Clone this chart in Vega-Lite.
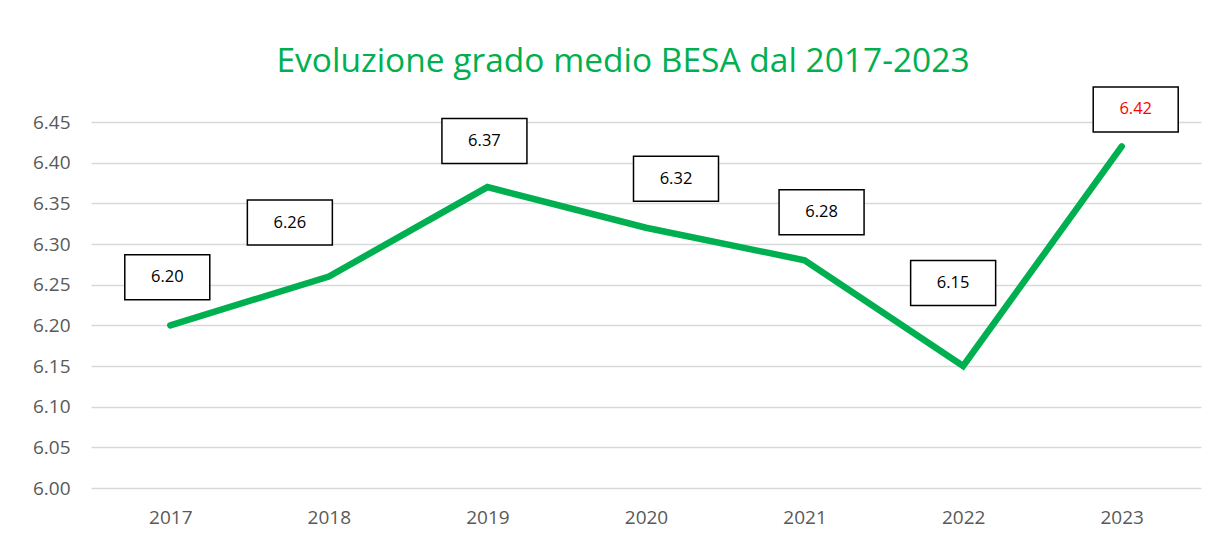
{
  "$schema": "https://vega.github.io/schema/vega-lite/v6.json",
  "width": 1110,
  "height": 366,
  "autosize": {"type": "none"},
  "padding": {"left": 91, "top": 122, "right": 17, "bottom": 55},
  "background": "white",
  "config": {"view": {"stroke": null}, "font": "Open Sans"},
  "title": {
    "text": "Evoluzione grado medio BESA dal 2017-2023",
    "color": "#00B050",
    "font": "Open Sans",
    "fontSize": 33.5,
    "fontWeight": "normal",
    "anchor": "middle",
    "offset": 4,
    "dx": -23
  },
  "data": {
    "values": [
      {"year": "2017", "grade": 6.20, "label": "6.20"},
      {"year": "2018", "grade": 6.26, "label": "6.26"},
      {"year": "2019", "grade": 6.37, "label": "6.37"},
      {"year": "2020", "grade": 6.32, "label": "6.32"},
      {"year": "2021", "grade": 6.28, "label": "6.28"},
      {"year": "2022", "grade": 6.15, "label": "6.15"},
      {"year": "2023", "grade": 6.42, "label": "6.42"}
    ]
  },
  "encoding": {
    "x": {
      "field": "year",
      "type": "ordinal",
      "scale": {"type": "point", "padding": 0.5},
      "axis": {
        "title": null,
        "labelAngle": 0,
        "labelFontSize": 19,
        "labelColor": "#595959",
        "labelPadding": 20,
        "ticks": false,
        "domain": false,
        "grid": false
      }
    },
    "y": {
      "field": "grade",
      "type": "quantitative",
      "scale": {"domain": [6.0, 6.45], "zero": false, "nice": false},
      "axis": {
        "title": null,
        "values": [6.0, 6.05, 6.1, 6.15, 6.2, 6.25, 6.3, 6.35, 6.4, 6.45],
        "format": ".2f",
        "labelFontSize": 19,
        "labelColor": "#595959",
        "labelPadding": 21,
        "ticks": false,
        "domain": false,
        "gridColor": "#D9D9D9",
        "gridWidth": 1.5
      }
    }
  },
  "layer": [
    {
      "mark": {"type": "line", "color": "#00B050", "strokeWidth": 6.5, "strokeCap": "round", "strokeJoin": "miter"}
    },
    {
      "mark": {
        "type": "point",
        "shape": "M-1,-0.53H1V0.53H-1Z",
        "size": 7225,
        "filled": true,
        "fill": "white",
        "stroke": "black",
        "strokeWidth": 1.5,
        "opacity": 1,
        "xOffset": {"expr": "datum.year=='2018' ? -39 : datum.year=='2020' ? 30 : datum.year=='2021' ? 17 : datum.year=='2022' ? -10 : datum.year=='2023' ? 14 : -3"},
        "yOffset": {"expr": "datum.year=='2018' ? -54 : datum.year=='2019' ? -46 : datum.year=='2020' ? -49 : datum.year=='2022' ? -83 : datum.year=='2023' ? -37 : -48"}
      }
    },
    {
      "mark": {
        "type": "text",
        "fontSize": 16.5,
        "font": "Open Sans",
        "baseline": "middle",
        "align": "center",
        "xOffset": {"expr": "datum.year=='2018' ? -39 : datum.year=='2020' ? 30 : datum.year=='2021' ? 17 : datum.year=='2022' ? -10 : datum.year=='2023' ? 14 : -3"},
        "yOffset": {"expr": "datum.year=='2018' ? -54 : datum.year=='2019' ? -46 : datum.year=='2020' ? -49 : datum.year=='2022' ? -83 : datum.year=='2023' ? -37 : -48"}
      },
      "encoding": {
        "text": {"field": "label"},
        "color": {
          "condition": {"test": "datum.year=='2023'", "value": "#FF0000"},
          "value": "#000000"
        }
      }
    }
  ]
}
